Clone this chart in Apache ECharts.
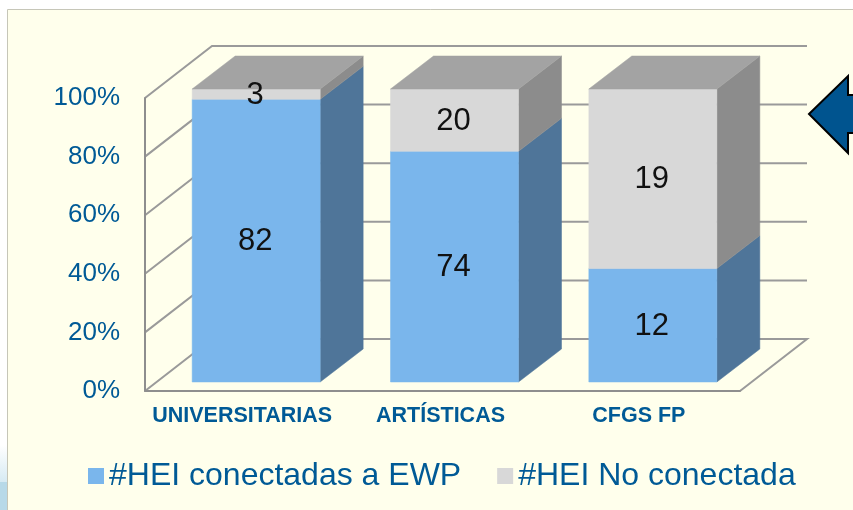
<!DOCTYPE html>
<html><head><meta charset="utf-8">
<style>html,body{margin:0;padding:0;background:#fff}#c{width:853px;height:510px}</style>
<script src="https://cdn.jsdelivr.net/npm/echarts@6/dist/echarts.min.js"></script>
</head><body><div id="c"></div>
<script>
const categories = ['UNIVERSITARIAS', 'ARTÍSTICAS', 'CFGS FP'];
const conectadas = [82, 74, 12];
const noConectadas = [3, 20, 19];
const yTicks = [0, 20, 40, 60, 80, 100];
const seriesNames = ['#HEI conectadas a EWP', '#HEI No conectada'];

const font = '"Liberation Sans", Arial, sans-serif';
const ink = '#005A96';
const wall = {dx: 67, dy: -52};
const bar = {lift: {dx: 12, dy: -9}, depth: {dx: 43, dy: -33}, width: 128};

const pct = (v, i) => v / (conectadas[i] + noConectadas[i]) * 100;

function poly(points, fill) {
  return {type: 'polygon', shape: {points}, style: {fill, stroke: fill, lineWidth: 0.5}};
}
function makeStack(values, base, front, side, withTop) {
  return function (params, api) {
    const i = params.dataIndex;
    const from = base(i), to = from + pct(values[i], i);
    const cx = api.coord([i, 0])[0] + bar.lift.dx;
    const yA = api.coord([i, from])[1] + bar.lift.dy;
    const yB = api.coord([i, to])[1] + bar.lift.dy;
    const l = cx - bar.width / 2, r = cx + bar.width / 2;
    const d = bar.depth;
    const kids = [
      poly([[r, yA], [r + d.dx, yA + d.dy], [r + d.dx, yB + d.dy], [r, yB]], side),
      poly([[l, yA], [r, yA], [r, yB], [l, yB]], front)
    ];
    if (withTop) kids.push(poly([[l, yB], [r, yB], [r + d.dx, yB + d.dy], [l + d.dx, yB + d.dy]], '#A3A3A3'));
    kids.push({type: 'text', z2: 10, style: {
      text: String(values[i]), x: cx - 1, y: (yA + yB) / 2 + 1, align: 'center', verticalAlign: 'middle',
      fill: '#111', font: '31px ' + font}});
    return {type: 'group', children: kids};
  };
}

const chart = echarts.init(document.getElementById('c'), null, {renderer: 'canvas'});
chart.setOption({
  animation: false,
  backgroundColor: '#fff',
  textStyle: {fontFamily: font},
  grid: {left: 145, right: 113, top: 98, bottom: 119},
  legend: {
    left: 83, top: 455, itemWidth: 16, itemHeight: 16, itemGap: 36, icon: 'rect',
    data: seriesNames,
    textStyle: {color: ink, fontSize: 32, fontFamily: font}
  },
  xAxis: {
    type: 'category', data: categories, z: 5,
    axisLine: {lineStyle: {color: '#8E8E8E', width: 2}},
    axisTick: {show: false},
    axisLabel: {interval: 0, margin: 14, color: ink, fontSize: 21.5, fontWeight: 'bold', fontFamily: font, padding: [0, 4, 0, 0]}
  },
  yAxis: {
    type: 'value', min: 0, max: 100, interval: 20, z: 5,
    axisLine: {show: true, lineStyle: {color: '#8E8E8E', width: 2}},
    axisTick: {show: false},
    splitLine: {show: false},
    axisLabel: {margin: 25, color: ink, fontSize: 26, fontFamily: font, formatter: '{value}%'}
  },
  graphic: {elements: [
    {type: 'rect', z: -11, silent: true, shape: {x: 0, y: 445, width: 8, height: 37},
     style: {fill: {type: 'linear', x: 0, y: 0, x2: 0, y2: 1, colorStops: [{offset: 0, color: '#FFFFFF'}, {offset: 1, color: '#D6EAF3'}]}}},
    {type: 'rect', z: -11, silent: true, shape: {x: 0, y: 482, width: 8, height: 28},
     style: {fill: '#B7D9E8'}},
    {type: 'rect', z: -10, silent: true, shape: {x: 7.5, y: 9.5, width: 860, height: 520},
     style: {fill: '#FFFFEC', stroke: '#C6C6B8', lineWidth: 1}},
    {type: 'polygon', z: 100, silent: true,
     shape: {points: [[809, 114], [848, 76], [848, 95], [860, 95], [860, 133], [848, 133], [848, 153]]},
     style: {fill: '#00548F', stroke: '#000', lineWidth: 2}}
  ]},
  series: [
    {
      type: 'custom', coordinateSystem: 'cartesian2d', silent: true, z: 1, data: yTicks.map(v => [0, v]),
      encode: {x: 0, y: 1},
      renderItem(params, api) {
        const v = api.value(1);
        const p = api.coord([0, v]);
        const x0 = params.coordSys.x, xEnd = params.coordSys.x + params.coordSys.width;
        const style = {stroke: '#9A9A9A', lineWidth: 2, fill: null};
        return {type: 'polyline', shape: {points: [[x0, p[1]], [x0 + wall.dx, p[1] + wall.dy], [xEnd + wall.dx, p[1] + wall.dy]].concat(v === 0 ? [[xEnd, p[1]]] : [])}, style};
      }
    },
    {
      name: seriesNames[0], type: 'custom', coordinateSystem: 'cartesian2d', silent: true, z: 2,
      itemStyle: {color: '#7AB6EC'},
      data: conectadas.map((v, i) => [i, pct(v, i)]), encode: {x: 0, y: 1},
      renderItem: makeStack(conectadas, () => 0, '#7AB6EC', '#4F7599', false)
    },
    {
      name: seriesNames[1], type: 'custom', coordinateSystem: 'cartesian2d', silent: true, z: 3,
      itemStyle: {color: '#D8D8D8'},
      data: noConectadas.map((v, i) => [i, 100]), encode: {x: 0, y: 1},
      renderItem: makeStack(noConectadas, i => pct(conectadas[i], i), '#D8D8D8', '#8C8C8C', true)
    }
  ]
});
</script></body></html>
